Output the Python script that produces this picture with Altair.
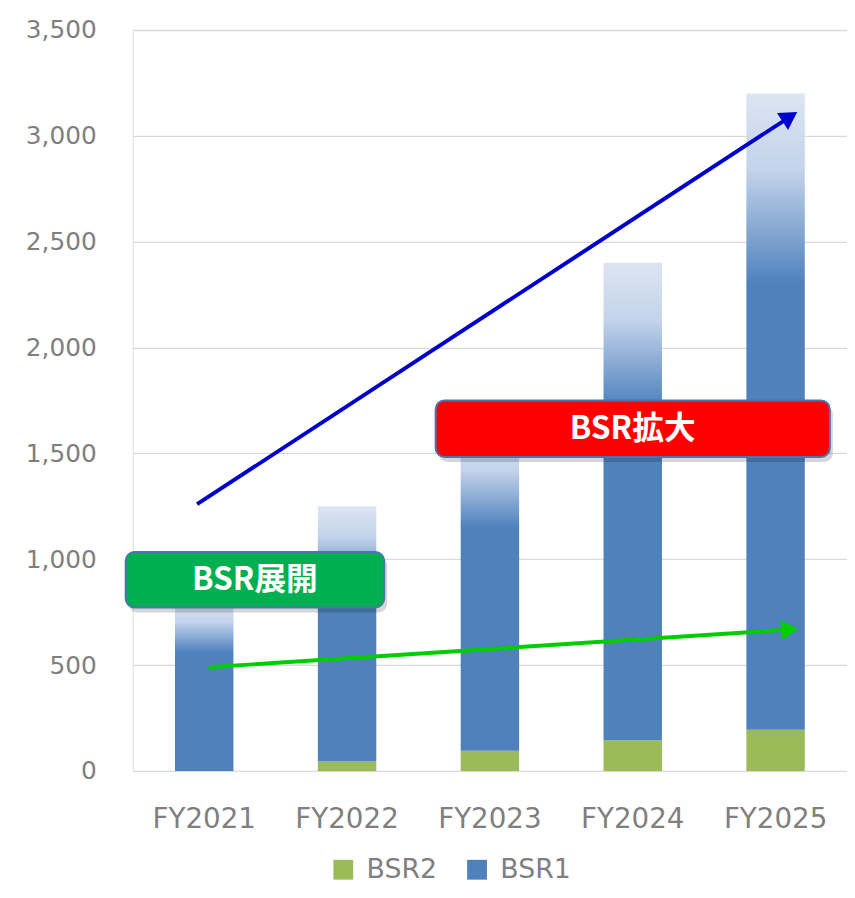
import math
import altair as alt
import pandas as pd

# ---------------- data ----------------
years = ["FY2021", "FY2022", "FY2023", "FY2024", "FY2025"]
bsr2 = [0, 45, 95, 145, 195]
bsr1 = [800, 1205, 1505, 2255, 3005]
series = ["BSR2", "BSR1"]
series_colors = ["#9BBB59", "#4F81BD"]
y_ticks = [0, 500, 1000, 1500, 2000, 2500, 3000, 3500]

# annotation boxes (x in category units: 0..5 across the plot, y in data units)
box_labels = ["BSR展開", "BSR拡大"]
box_fill = ["#00B050", "#FF0000"]
box_x0 = [-0.05, 2.12]
box_x1 = [1.76, 4.88]
box_y0 = [772, 1483]
box_y1 = [1034, 1750]

# trend arrows
arrow_names = ["blue", "green"]
arrow_colors = ["#0000CC", "#00CC00"]
arrow_x0 = [0.45, 0.53]
arrow_y0 = [1260, 490]
arrow_x1 = [4.6, 4.6]
arrow_y1 = [3090, 668]

# ---------------- layout ----------------
W, H = 721, 748
PAD = {"left": 126, "top": 18, "right": 0, "bottom": 116}
FONT = "DejaVu Sans"
GRAY = "#7F7F7F"

bars_df = pd.DataFrame({"year": years, "bsr2": bsr2, "bsr1": bsr1})
boxes_df = pd.DataFrame({"label": box_labels, "fill": box_fill,
                         "x0": box_x0, "x1": box_x1, "y0": box_y0, "y1": box_y1})
arrows_df = pd.DataFrame({"name": arrow_names, "color": arrow_colors,
                          "x0": arrow_x0, "y0": arrow_y0, "x1": arrow_x1, "y1": arrow_y1})

y_scale = alt.Scale(domain=[0, 3500], nice=False, zero=True)
y_axis = alt.Axis(values=y_ticks, format=",", labelExpr="format(datum.value, ',')",
                  title=None, labelFontSize=25,
                  labelColor=GRAY, labelFont=FONT, labelPadding=37, ticks=False,
                  domain=False, grid=True, gridColor="#D9D9D9", gridWidth=1.3)

band_scale = alt.Scale(domain=years, paddingInner=0, paddingOuter=0)
x_band = alt.X("year:N", sort=years, scale=band_scale,
               axis=alt.Axis(title=None, labelAngle=0, labelFontSize=28, labelColor=GRAY,
                             labelFont=FONT, labelPadding=35, ticks=False, domain=False))
x_band_noaxis = alt.X("year:N", sort=years, scale=band_scale, axis=None)

xq_scale = alt.Scale(domain=[0, 5], nice=False, zero=False)

BAR_W = 59

base_bars = alt.Chart(bars_df).transform_calculate(total="datum.bsr2 + datum.bsr1")

bsr2_layer = base_bars.transform_calculate(series="'BSR2'").mark_bar(size=BAR_W).encode(
    x=x_band,
    y=alt.Y("bsr2:Q", scale=y_scale, axis=y_axis),
    y2=alt.Y2(datum=0),
    color=alt.Color("series:N", scale=alt.Scale(domain=series, range=series_colors),
                    legend=alt.Legend(orient="none", legendX=199, legendY=834,
                                      direction="horizontal", title=None,
                                      labelFontSize=27, labelColor=GRAY, labelFont=FONT,
                                      symbolType="square", symbolSize=400,
                                      symbolStrokeWidth=0, columnPadding=26,
                                      labelOffset=10)),
)

gradient = {
    "gradient": "linear",
    "x1": 0, "y1": 0, "x2": 0, "y2": 1,
    "stops": [
        {"offset": 0.0, "color": "#DCE5F2"},
        {"offset": 0.12, "color": "#C3D3EA"},
        {"offset": 0.30, "color": "#4F81BD"},
        {"offset": 1.0, "color": "#4F81BD"},
    ],
}

bsr1_layer = base_bars.mark_bar(size=BAR_W, color=gradient).encode(
    x=x_band_noaxis,
    y=alt.Y("total:Q", scale=y_scale, axis=y_axis),
    y2="bsr2:Q",
)

# annotation boxes
box_shadow = alt.Chart(boxes_df).mark_rect(cornerRadius=9, color="#000000", opacity=0.16,
                                           xOffset=3, yOffset=5, x2Offset=3, y2Offset=5).encode(
    x=alt.X("x0:Q", scale=xq_scale, axis=None),
    x2="x1:Q",
    y=alt.Y("y0:Q", scale=y_scale, axis=y_axis),
    y2="y1:Q",
)
box_layer = alt.Chart(boxes_df).mark_rect(cornerRadius=9, stroke="#4A76A8", strokeWidth=2).encode(
    x=alt.X("x0:Q", scale=xq_scale, axis=None),
    x2="x1:Q",
    y=alt.Y("y0:Q", scale=y_scale, axis=y_axis),
    y2="y1:Q",
    fill=alt.Fill("fill:N", scale=None),
)
box_text = alt.Chart(boxes_df).transform_calculate(
    xc="(datum.x0 + datum.x1) / 2", yc="(datum.y0 + datum.y1) / 2"
).mark_text(font="Noto Sans CJK JP", fontWeight="bold", fontSize=32, color="white",
            baseline="middle", align="center").encode(
    x=alt.X("xc:Q", scale=xq_scale, axis=None),
    y=alt.Y("yc:Q", scale=y_scale, axis=y_axis),
    text="label:N",
)

# arrows
layers_arrows = []
px_x = W / 5.0
px_y = H / 3500.0
for i, name in enumerate(arrow_names):
    sub = arrows_df[arrows_df["name"] == name]
    dx = (arrow_x1[i] - arrow_x0[i]) * px_x
    dy = (arrow_y1[i] - arrow_y0[i]) * px_y
    ang = math.degrees(math.atan2(dy, dx))
    rot = (360 - ang) % 360
    line = alt.Chart(sub).mark_rule(color=arrow_colors[i], strokeWidth=4).encode(
        x=alt.X("x0:Q", scale=xq_scale, axis=None),
        x2="x1:Q",
        y=alt.Y("y0:Q", scale=y_scale, axis=y_axis),
        y2="y1:Q",
    )
    head = alt.Chart(sub).mark_point(shape="triangle-right", filled=True, opacity=1,
                                     color=arrow_colors[i], size=420, angle=rot).encode(
        x=alt.X("x1:Q", scale=xq_scale, axis=None),
        y=alt.Y("y1:Q", scale=y_scale, axis=y_axis),
    )
    layers_arrows += [line, head]

chart = alt.layer(
    bsr2_layer, bsr1_layer, box_shadow, box_layer, *layers_arrows, box_text
).resolve_scale(x="independent").properties(
    width=W, height=H, padding=PAD,
    autosize=alt.AutoSizeParams(type="none"),
).configure_view(stroke=None).configure(background="white")

chart.save("out.html", embed_options={"renderer": "svg", "actions": False})
